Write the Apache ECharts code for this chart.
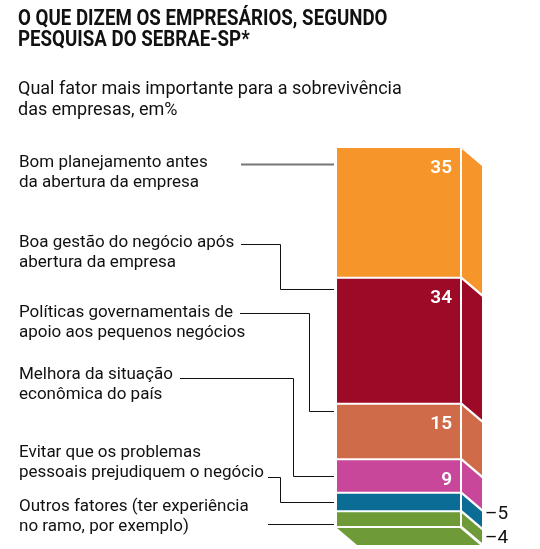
<!DOCTYPE html>
<html>
<head>
<meta charset="utf-8">
<script src="https://cdn.jsdelivr.net/npm/echarts@6/dist/echarts.min.js"></script>
<style>
html,body{margin:0;padding:0;background:#fff;}
#chart{width:540px;height:549px;}
</style>
</head>
<body>
<div id="chart"></div>
<script>
// ---- data ----
const titleLines = ['O QUE DIZEM OS EMPRESÁRIOS, SEGUNDO', 'PESQUISA DO SEBRAE-SP*'];
const subtitleLines = ['Qual fator mais importante para a sobrevivência', 'das empresas, em%'];
const categories = [
  'Bom planejamento antes\nda abertura da empresa',
  'Boa gestão do negócio após\nabertura da empresa',
  'Políticas governamentais de\napoio aos pequenos negócios',
  'Melhora da situação\neconômica do país',
  'Evitar que os problemas\npessoais prejudiquem o negócio',
  'Outros fatores (ter experiência\nno ramo, por exemplo)'
];
const values = [35, 34, 15, 9, 5, 4];

// ---- styles / layout ----
const colors = ['#F5952A', '#9C0A28', '#D06B4A', '#C8479A', '#0B6C96', '#6E9B38'];
const DX = 20, DY = 17;                 // extrusion offset (px)
const labelTop = [163, 243, 313, 375, 453, 507];   // centre of first text line
const leaderY = [164, 244, 313, 378, 477, 524];
const leaderStart = [241, 241, 240, 180, 268, 268];
const leaderElbow = [null, 280, 309, 293, 280, null];
const leaderAnchor = [null, 0.09, 0.13, 0.5, 0.5, null]; // fraction within segment
const outsideNudge = [0, 0, 0, 0, -5, 2];
const bodyFont = 'Roboto, "Noto Sans", sans-serif';

const total = values.reduce((a, b) => a + b, 0);
let acc = 0;
const seriesData = values.map((v, i) => { const s = acc; acc += v; return [i, s, acc, v]; });

const chart = echarts.init(document.getElementById('chart'), null, {renderer: 'canvas'});

function renderItem(params, api) {
  const i = params.dataIndex;
  const start = api.value(1), end = api.value(2), v = api.value(3);
  const p0 = api.coord([0, start]);
  const p1 = api.coord([1, end]);
  const x0 = p0[0], x1 = p1[0];
  const y0 = p0[1] + (i === 0 ? 0 : 1);
  const y1 = p1[1] - (i === values.length - 1 ? 0 : 1);
  const col = colors[i];
  const children = [];
  // front face
  children.push({type: 'rect', shape: {x: x0, y: y0, width: x1 - x0, height: y1 - y0}, style: {fill: col}});
  // side face
  const sx = x1 + 2;
  children.push({type: 'polygon', shape: {points: [[sx, y0 + 1], [sx + DX, y0 + 1 + DY], [sx + DX, y1 + DY], [sx, y1]]}, style: {fill: col}});
  // bottom face
  if (i === values.length - 1) {
    children.push({type: 'polygon', shape: {points: [[x0, y1 + 2], [x1, y1 + 2], [x1 + DX, y1 + 2 + DY], [x0 + DX, y1 + 2 + DY]]}, style: {fill: col}});
  }
  // value label
  if (v >= 9) {
    children.push({type: 'text', x: x1 - 8, y: y0 + 20, style: {text: String(v), fill: '#fff', font: '600 19px ' + bodyFont, align: 'right', verticalAlign: 'middle'}});
  } else {
    children.push({type: 'text', x: sx + DX + 3, y: (y0 + y1) / 2 + DY + outsideNudge[i], style: {text: '–' + v, fill: '#111', font: '19px ' + bodyFont, align: 'left', verticalAlign: 'middle'}});
  }
  // category label
  children.push({type: 'text', x: 19, y: labelTop[i] - 10, style: {text: categories[i], fill: '#111', font: '17px ' + bodyFont, lineHeight: 20, align: 'left', verticalAlign: 'top'}});
  // leader line
  const ly = Math.round(leaderY[i]) + 0.5;
  let pts;
  if (leaderElbow[i] == null) {
    pts = [[leaderStart[i], ly], [x0 - 3, ly]];
  } else {
    const ey = Math.round(api.coord([0, start + v * leaderAnchor[i]])[1]) + 0.5;
    const ex = leaderElbow[i] + 0.5;
    pts = [[leaderStart[i], ly], [ex, ly], [ex, ey], [x0 - 3, ey]];
  }
  children.push({type: 'polyline', shape: {points: pts}, style: {stroke: i === 0 ? '#777' : '#111', lineWidth: i === 0 ? 2 : 1, fill: null}});
  return {type: 'group', children: children};
}

chart.setOption({
  animation: false,
  backgroundColor: '#fff',
  grid: {left: 337, right: 80, top: 148, bottom: 23},
  xAxis: {type: 'value', min: 0, max: 1, show: false},
  yAxis: {type: 'value', min: 0, max: total, inverse: true, show: false},
  graphic: [
    {type: 'text', x: 18, y: 9, scaleX: 0.85, style: {text: titleLines.join('\n'), fill: '#111', font: 'bold 22px ' + bodyFont, lineHeight: 21, verticalAlign: 'top'}},
    {type: 'text', x: 18, y: 79, style: {text: subtitleLines.join('\n'), fill: '#111', font: '18px ' + bodyFont, lineHeight: 21, verticalAlign: 'top'}}
  ],
  series: [{
    type: 'custom',
    renderItem: renderItem,
    data: seriesData,
    encode: {x: 0, y: [1, 2]},
    clip: false
  }]
});
</script>
</body>
</html>
